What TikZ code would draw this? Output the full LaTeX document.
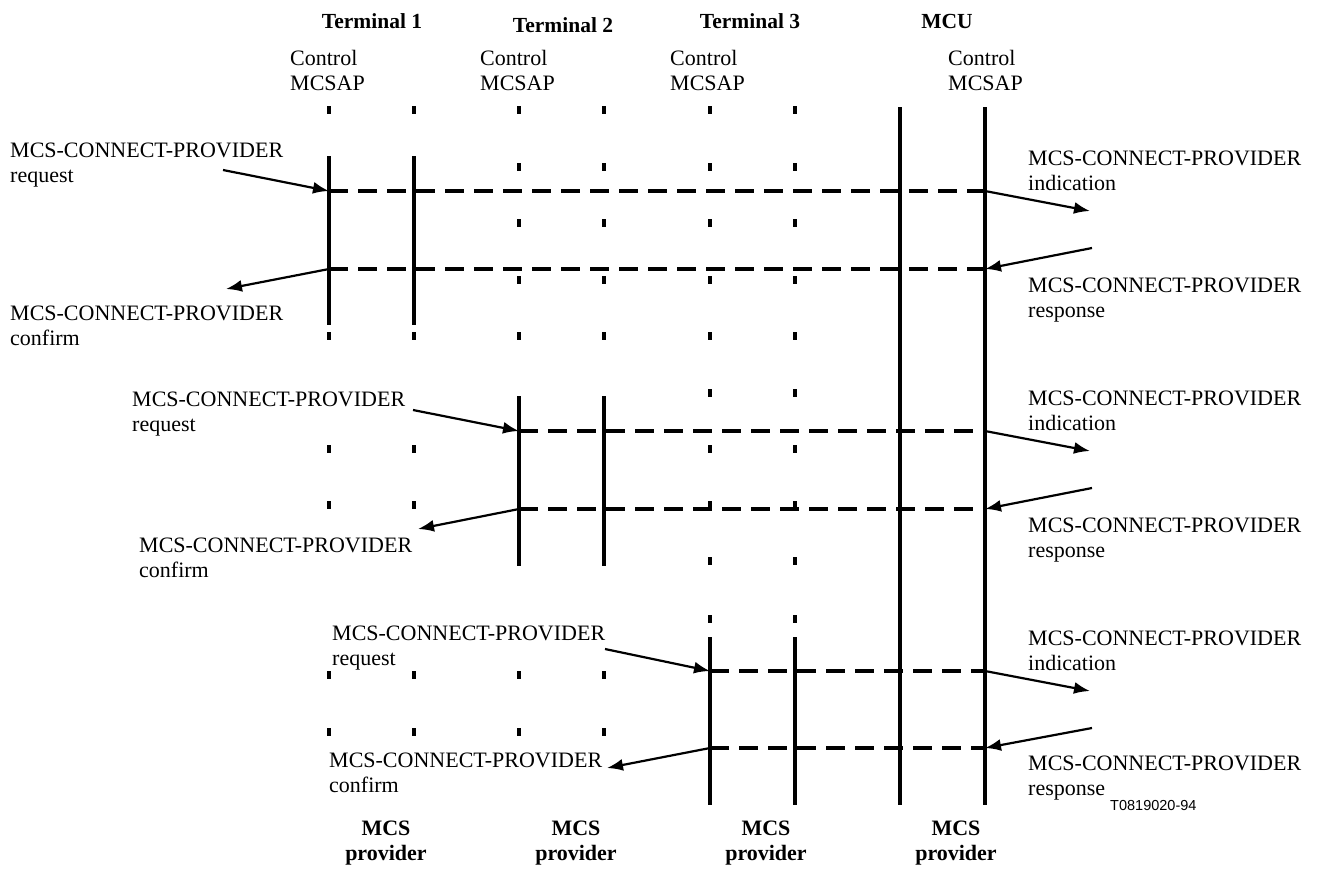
\documentclass[tikz,border=0pt]{standalone}
\usepackage{fontspec}
\setmainfont{Liberation Serif}
\newfontfamily\figsans{Liberation Sans}
\usetikzlibrary{arrows.meta}
\newcommand{\mytwo}[2]{\begin{tabular}[t]{@{}l@{}}#1\\#2\end{tabular}}
\newcommand{\mytwoc}[2]{\begin{tabular}[t]{@{}c@{}}#1\\#2\end{tabular}}
\begin{document}
\begin{tikzpicture}[x=1pt,y=-1pt,
  life/.style={line width=3.2pt},
  mytick/.style={line width=3.2pt},
  msg/.style={line width=3.2pt, dash pattern=on 19pt off 10pt},
  arr/.style={line width=2.2pt, -{Latex[length=16pt,width=12pt]}},
  lbl/.style={font=\fontsize{22}{25}\selectfont, inner sep=0pt, anchor=base west},
  head/.style={font=\bfseries\fontsize{21.5}{25}\selectfont, inner sep=0pt, anchor=base},
  foot/.style={font=\bfseries\fontsize{22}{25}\selectfont, inner sep=0pt, anchor=base}]
\useasboundingbox (0,0) rectangle (1321,868);

% headings
\node[head] (h1) at (372,28) {Terminal 1};
\node[head] (h2) at (563,32) {Terminal 2};
\node[head] (h3) at (750,28) {Terminal 3};
\node[head] (h4) at (947,28) {MCU};
\node[lbl] (c1) at (290,65) {\mytwo{Control}{MCSAP}};
\node[lbl] (c2) at (480,65) {\mytwo{Control}{MCSAP}};
\node[lbl] (c3) at (670,65) {\mytwo{Control}{MCSAP}};
\node[lbl] (c4) at (948,65) {\mytwo{Control}{MCSAP}};

% bottom labels
\node[foot] (f1) at (386,835) {\mytwoc{MCS}{provider}};
\node[foot] (f2) at (576,835) {\mytwoc{MCS}{provider}};
\node[foot] (f3) at (766,835) {\mytwoc{MCS}{provider}};
\node[foot] (f4) at (956,835) {\mytwoc{MCS}{provider}};
\node[inner sep=0pt, anchor=base west, font=\figsans\fontsize{14.5}{16}\selectfont] (ref) at (1110,810) {T0819020-94};

% ticks
\foreach \x/\ys in {329/{110,336,449,505,675,732}, 414/{110,336,449,505,675,732},
                    519/{110,167,223,280,336,675,732}, 604/{110,167,223,280,336,675,732},
                    710/{110,167,223,280,336,393,449,505,561,619}, 795/{110,167,223,280,336,393,449,505,561,619}}
  \foreach \y in \ys \draw[mytick] (\x,\y-4) -- (\x,\y+4);

% solid lifelines
\draw[life] (329,156) -- (329,325);
\draw[life] (414,156) -- (414,325);
\draw[life] (519,396) -- (519,566);
\draw[life] (604,396) -- (604,566);
\draw[life] (710,637) -- (710,805);
\draw[life] (795,637) -- (795,805);
\draw[life] (900,107) -- (900,805);
\draw[life] (985,107) -- (985,805);

% coordinates on lines
\coordinate (a1) at (329,191); \coordinate (b1) at (985,191);
\coordinate (a2) at (329,269); \coordinate (b2) at (985,269);
\coordinate (a3) at (519,431); \coordinate (b3) at (985,431);
\coordinate (a4) at (519,509); \coordinate (b4) at (985,509);
\coordinate (a5) at (710,671); \coordinate (b5) at (985,671);
\coordinate (a6) at (710,748); \coordinate (b6) at (985,748);

% dashed messages
\draw[msg] (a1) -- (b1);
\draw[msg] (a2) -- (b2);
\draw[msg] (a3) -- (b3);
\draw[msg] (a4) -- (b4);
\draw[msg] (a5) -- (b5);
\draw[msg] (a6) -- (b6);

% labels
\node[lbl] (req1) at (10,157) {\mytwo{MCS-CONNECT-PROVIDER}{request}};
\node[lbl] (con1) at (10,320) {\mytwo{MCS-CONNECT-PROVIDER}{confirm}};
\node[lbl] (ind1) at (1028,165) {\mytwo{MCS-CONNECT-PROVIDER}{indication}};
\node[lbl] (res1) at (1028,292) {\mytwo{MCS-CONNECT-PROVIDER}{response}};
\node[lbl] (req2) at (132,406) {\mytwo{MCS-CONNECT-PROVIDER}{request}};
\node[lbl] (con2) at (139,552) {\mytwo{MCS-CONNECT-PROVIDER}{confirm}};
\node[lbl] (ind2) at (1028,405) {\mytwo{MCS-CONNECT-PROVIDER}{indication}};
\node[lbl] (res2) at (1028,532) {\mytwo{MCS-CONNECT-PROVIDER}{response}};
\node[lbl] (req3) at (332,640) {\mytwo{MCS-CONNECT-PROVIDER}{request}};
\node[lbl] (con3) at (329,767) {\mytwo{MCS-CONNECT-PROVIDER}{confirm}};
\node[lbl] (ind3) at (1028,645) {\mytwo{MCS-CONNECT-PROVIDER}{indication}};
\node[lbl] (res3) at (1028,770) {\mytwo{MCS-CONNECT-PROVIDER}{response}};

% free arrow ends
\coordinate (rq1) at (223,170); \coordinate (cf1) at (226,289);
\coordinate (in1) at (1090,211); \coordinate (rs1) at (1092,248);
\coordinate (rq2) at (413,410); \coordinate (cf2) at (418,529);
\coordinate (in2) at (1090,451); \coordinate (rs2) at (1092,488);
\coordinate (rq3) at (605,649); \coordinate (cf3) at (607,768);
\coordinate (in3) at (1090,691); \coordinate (rs3) at (1092,728);

% arrows
\draw[arr] (rq1) -- (a1);
\draw[arr] (a2) -- (cf1);
\draw[arr] (b1) -- (in1);
\draw[arr] (rs1) -- (b2);
\draw[arr] (rq2) -- (a3);
\draw[arr] (a4) -- (cf2);
\draw[arr] (b3) -- (in2);
\draw[arr] (rs2) -- (b4);
\draw[arr] (rq3) -- (a5);
\draw[arr] (a6) -- (cf3);
\draw[arr] (b5) -- (in3);
\draw[arr] (rs3) -- (b6);
\end{tikzpicture}
\end{document}
